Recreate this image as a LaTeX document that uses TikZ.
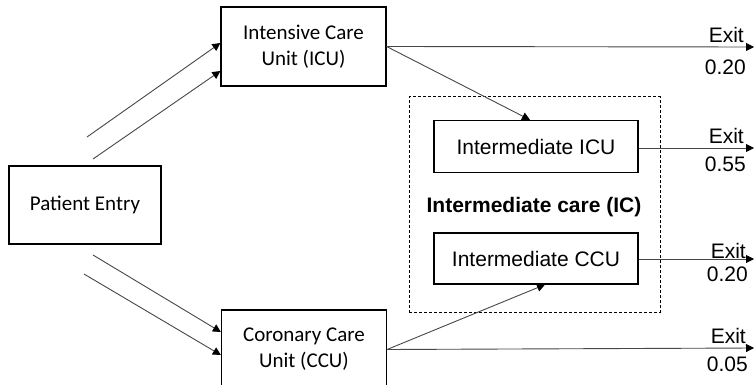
\documentclass[tikz,border=0pt]{standalone}
\usepackage{fontspec}
\setmainfont{Liberation Sans}
\newfontfamily\calibri{Carlito}
\usetikzlibrary{arrows.meta,
                positioning}

\tikzset{
    unitbox/.style={draw, line width=1.2pt, minimum width=165pt, minimum height=79pt,
                    inner sep=0pt, align=center, font=\calibri\fontsize{21}{26}\selectfont},
    icbox/.style={draw, line width=1.2pt, minimum width=204pt, minimum height=52pt,
                  inner sep=0pt, font=\fontsize{21}{25}\selectfont},
    flow/.style={draw=black!72, line width=0.9pt, -{Triangle[length=8pt,width=8pt,color=black]}},
    exitlbl/.style={inner sep=0pt, font=\fontsize{21}{25}\selectfont},
}

\begin{document}
\begin{tikzpicture}[x=1pt, y=-1pt]
    \clip (0,0) rectangle (755,385);

    % units
    \node[unitbox, minimum width=152pt, minimum height=78pt] (entry) at (85,205) {Patient Entry};
    \node[unitbox] (icu) at (303.5,46.5) {Intensive Care\\Unit (ICU)};
    \node[unitbox] (ccu) at (304,349.5) {Coronary Care\\Unit (CCU)};

    % intermediate care
    \node[draw, line width=1pt, dash pattern=on 3pt off 2pt, minimum width=251pt,
          minimum height=215pt] (ic) at (534.5,204.5) {};
    \node[icbox] (iicu) at (536,146.5) {Intermediate ICU};
    \node[icbox, minimum height=51pt] (iccu) at (536,258.5) {Intermediate CCU};
    \node[exitlbl, font=\bfseries\fontsize{21}{25}\selectfont] (iclbl) at (534,207) {Intermediate care (IC)};

    % entry arrows
    \coordinate (a1) at (87,137);
    \coordinate (a2) at (93,159);
    \coordinate (b1) at (93,255);
    \coordinate (b2) at (84,274);
    \draw[flow] (a1) -- ([yshift=3.5pt]icu.west);
    \draw[flow] (a2) -- ([yshift=-24.5pt]icu.west);
    \draw[flow] (b1) -- ([yshift=17.5pt]ccu.west);
    \draw[flow] (b2) -- ([yshift=-5.5pt]ccu.west);

    % to intermediate care
    \draw[flow] (icu.east) -- ([xshift=-6pt]iicu.north);
    \draw[flow] (ccu.east) -- ([xshift=9pt]iccu.south);

    % exits
    \coordinate (ex1) at (754,47);
    \coordinate (ex2) at (754,148);
    \coordinate (ex3) at (754,259);
    \coordinate (ex4) at (754,348);
    \draw[flow] (icu.east) -- (ex1);
    \draw[flow] ([yshift=-1.5pt]iicu.east) -- (ex2);
    \draw[flow] ([yshift=-0.5pt]iccu.east) -- (ex3);
    \draw[flow] (ccu.east) -- (ex4);

    \node[exitlbl, anchor=base east] (x1) at (744,43) {Exit};
    \node[exitlbl, anchor=north east] (p1) at (746,60) {0.20};
    \node[exitlbl, anchor=base east] (x2) at (744,143) {Exit};
    \node[exitlbl, anchor=north east] (p2) at (746,157) {0.55};
    \node[exitlbl, anchor=base east] (x3) at (746,258) {Exit};
    \node[exitlbl, anchor=north east] (p3) at (748,267) {0.20};
    \node[exitlbl, anchor=base east] (x4) at (746,343) {Exit};
    \node[exitlbl, anchor=north east] (p4) at (748,357) {0.05};

\end{tikzpicture}
\end{document}
